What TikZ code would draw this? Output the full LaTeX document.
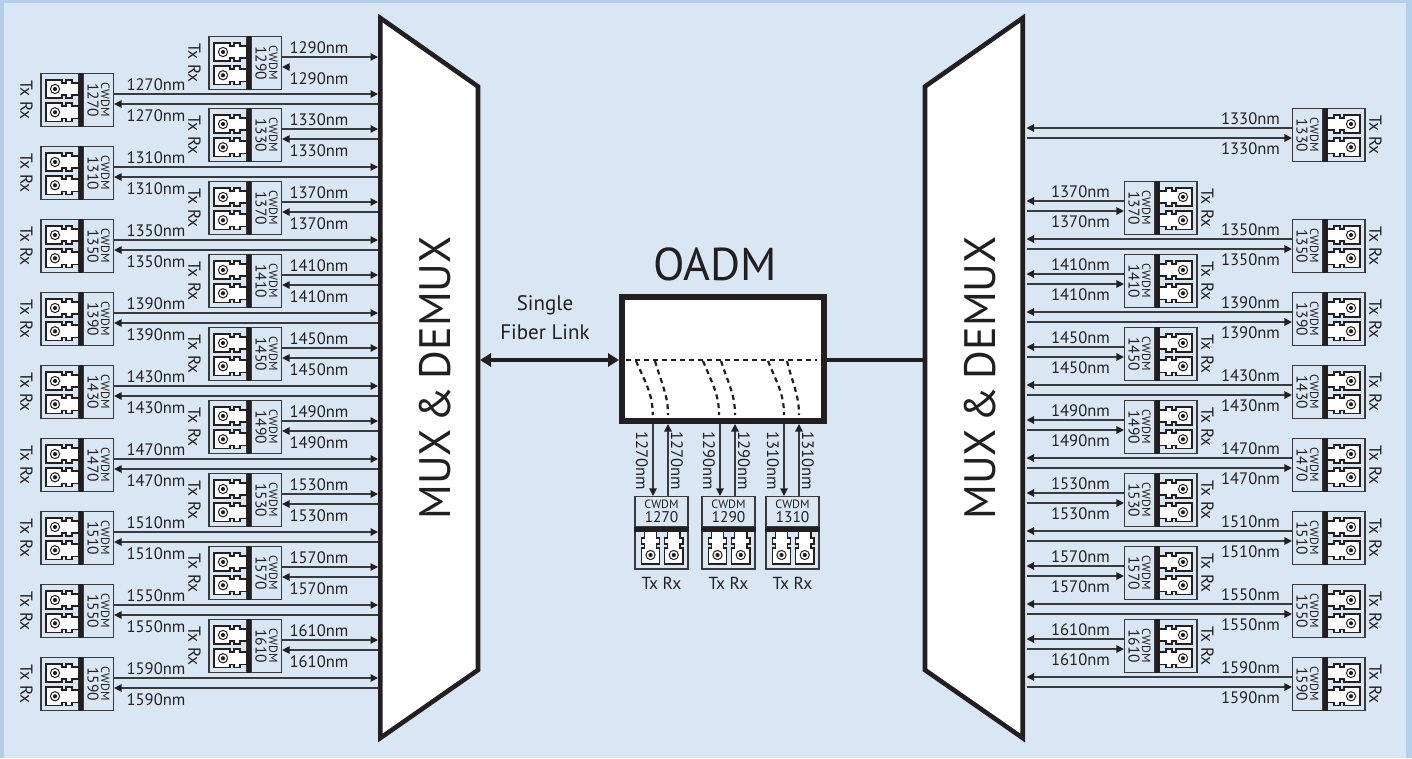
\documentclass[tikz,border=0pt]{standalone}
\usepackage{fontspec}
\setmainfont{PT Sans}
\usetikzlibrary{arrows.meta}
\definecolor{bgband}{HTML}{B3CFE9}
\definecolor{bgmain}{HTML}{D9E6F4}
\definecolor{ink}{HTML}{231F20}
\definecolor{wire}{HTML}{3A3A3C}
\newcommand\fsize[1]{\fontsize{#1}{#1}\selectfont}
\newcommand\cwtext[1]{\vbox{\baselineskip=13.5pt
  \hbox to 36pt{\hss\fsize{12}CWDM\hss}
  \hbox to 36pt{\hss\fsize{15.5}#1\hss}}}
\tikzset{
  lbl/.style={font=\fsize{16.6},text=ink,inner sep=0pt},
  txrx/.style={font=\fsize{17.4},text=ink,inner sep=0pt},
  big/.style={font=\fsize{46},text=ink,inner sep=0pt},
  bigrot/.style={font=\fsize{44},text=ink,inner sep=0pt},
  wirearrow/.style={draw=wire,line width=1.3pt,-{Triangle[length=7.5pt,width=7.5pt,color=ink]}},
  cwbox/.style={draw=wire,line width=1.2pt,fill=bgmain,inner sep=0pt,text=ink},
  cwv/.style={cwbox,minimum width=30pt,minimum height=53pt},
  cwh/.style={cwbox,minimum width=53pt,minimum height=30pt},
  muxshape/.style={draw=ink,fill=white,line width=4.6pt,miter limit=10},
  fib/.style={draw=ink,line width=2.2pt,dash pattern=on 5pt off 4pt},
}
\newcommand\lcparts{%
    \draw[wire,line width=1.2pt,fill=bgmain] (0,-26.5) rectangle (38,26.5);
    \fill[ink] (37.5,-27.1) rectangle (42.5,27.1);
    \foreach \t/\b in {-20/-2,3/21.5}{
      \draw[ink,line width=1.2pt,fill=white]
        (5,\t) -- (21,\t) -- (21,\t+3) -- (25,\t+3) -- (25,\t) -- (31,\t) -- (31,\t+3) -- (37.5,\t+3)
        -- (37.5,\b-3) -- (31,\b-3) -- (31,\b) -- (25,\b) -- (25,\b-3) -- (21,\b-3) -- (21,\b) -- (5,\b) -- cycle;
      \draw[ink,line width=1pt,fill=white] (14,{(\t+\b)/2}) circle (4.6);
      \fill[ink] (14,{(\t+\b)/2}) circle (2.1);
    }%
}
% left module: x0 = left edge, c = centre y; no lower line
\newcommand\rowLcore[4]{%
  \begin{scope}[shift={(#2,#3)}]\lcparts\end{scope}
  \node[cwv] (cw#1) at (#2+57.5,#3) {\rotatebox{-90}{\cwtext{#1}}};
  \node[txrx,rotate=-90] (tr#1) at (#2-14.5,#3) {Tx Rx};
  \draw[wirearrow] ([yshift=6pt]cw#1.east) -- ([yshift=6pt]cw#1.east -| muxLedge);
  \node[lbl] (up#1) at (#4,#3-15) {#1nm};
  \node[lbl] (dn#1) at (#4,#3+16) {#1nm};
}
\newcommand\rowL[4]{\rowLcore{#1}{#2}{#3}{#4}%
  \draw[wirearrow] ([yshift=-4pt]cw#1.east -| muxLedge) -- ([yshift=-4pt]cw#1.east);
}
% right module: x0 = right edge
\newcommand\rowR[4]{%
  \begin{scope}[shift={(#2,#3)},xscale=-1]\lcparts\end{scope}
  \node[cwv] (cr#1) at (#2-57.5,#3) {\rotatebox{-90}{\cwtext{#1}}};
  \node[txrx,rotate=-90] (tq#1) at (#2+10.5,#3) {Tx Rx};
  \draw[wirearrow] ([yshift=7pt]cr#1.west) -- ([yshift=7pt]cr#1.west -| muxRedge);
  \draw[wirearrow] ([yshift=-3pt]cr#1.west -| muxRedge) -- ([yshift=-3pt]cr#1.west);
  \node[lbl] (uq#1) at (#4,#3-16) {#1nm};
  \node[lbl] (dq#1) at (#4,#3+14) {#1nm};
}
% bottom module: cx = centre x
\newcommand\rowB[2]{%
  \begin{scope}[shift={(#2,569)},rotate=90]\lcparts\end{scope}
  \node[cwh] (cb#1) at (#2,511.5) {\cwtext{#1}};
  \node[txrx] (tb#1) at (#2,583) {Tx Rx};
  \draw[wirearrow] ([xshift=-8.5pt]cb#1.north |- oadm.south) -- ([xshift=-8.5pt]cb#1.north);
  \draw[wirearrow] ([xshift=6.5pt]cb#1.north) -- ([xshift=6.5pt]cb#1.north |- oadm.south);
  \node[lbl,rotate=-90] (lb#1) at (#2-19.5,461) {#1nm};
  \node[lbl,rotate=-90] (rb#1) at (#2+15.5,461) {#1nm};
}
\begin{document}
\begin{tikzpicture}[x=1pt,y=-1pt]
\useasboundingbox (0,0) rectangle (1412,758);
\fill[bgband] (0,0) rectangle (1412,758);
\fill[bgmain] (4,3) rectangle (1406,758);

\coordinate (muxLedge) at (378,377);
\coordinate (muxLinner) at (480,360);
\coordinate (muxRedge) at (1026.5,377);
\coordinate (muxRinner) at (925,360);

% left rows
\rowL{1270}{41}{100}{156}
\rowL{1310}{41}{173}{156}
\rowL{1350}{41}{246}{156}
\rowL{1390}{41}{319}{156}
\rowL{1430}{41}{392}{156}
\rowL{1470}{41}{465}{156}
\rowL{1510}{41}{538}{156}
\rowL{1550}{41}{611}{156}
\rowL{1590}{41}{684}{156}
\rowLcore{1290}{209}{63}{319}
\draw[wirearrow] ([xshift=8pt,yshift=-4pt]cw1290.east) -- ([yshift=-4pt]cw1290.east);
\rowL{1330}{209}{135}{319}
\rowL{1370}{209}{208}{319}
\rowL{1410}{209}{281}{319}
\rowL{1450}{209}{354}{319}
\rowL{1490}{209}{427}{319}
\rowL{1530}{209}{500}{319}
\rowL{1570}{209}{573}{319}
\rowL{1610}{209}{646}{319}

% right rows
\rowR{1330}{1365}{135}{1250.5}
\rowR{1350}{1365}{246}{1250.5}
\rowR{1390}{1365}{319}{1250.5}
\rowR{1430}{1365}{392}{1250.5}
\rowR{1470}{1365}{465}{1250.5}
\rowR{1510}{1365}{538}{1250.5}
\rowR{1550}{1365}{611}{1250.5}
\rowR{1590}{1365}{684}{1250.5}
\rowR{1370}{1197}{208}{1080.5}
\rowR{1410}{1197}{281}{1080.5}
\rowR{1450}{1197}{354}{1080.5}
\rowR{1490}{1197}{427}{1080.5}
\rowR{1530}{1197}{500}{1080.5}
\rowR{1570}{1197}{573}{1080.5}
\rowR{1610}{1197}{646}{1080.5}

% MUX shapes
\draw[muxshape] (380.3,18) -- (478,86.5) -- (478,670) -- (380.3,738) -- cycle;
\draw[muxshape] (1022.7,18) -- (925,86.5) -- (925,670) -- (1022.7,738) -- cycle;
\node[bigrot,rotate=90] (muxLtext) at (435,378) {MUX\hspace{7pt}\&\hspace{7pt}DEMUX};
\node[bigrot,rotate=90] (muxRtext) at (980,378) {MUX\hspace{7pt}\&\hspace{7pt}DEMUX};

% OADM
\node[draw=ink,fill=white,line width=6pt,inner sep=0pt,minimum width=202pt,minimum height=124pt] (oadm) at (723,359) {};
\node[big] (oadmtext) at (715,264) {OADM};
\node[font=\fsize{21},text=ink,inner sep=0pt,align=center] (single) at (545,318) {Single\\[8pt]Fiber Link};
\draw[ink,line width=3.4pt,{Triangle[length=11pt,width=13pt]}-{Triangle[length=11pt,width=13pt]}] (muxLinner) -- (oadm.west |- muxLinner);
\draw[ink,line width=3.4pt] (oadm.east |- muxRinner) -- (muxRinner);
\draw[fib] (626,360) -- (817,360);
\foreach \a/\b in {636/652.7,655/668,703/719,721/735,768/784,787/799}{
  \draw[fib] (\a,361) .. controls (\b-6,385) and (\b,395) .. (\b,415);
}

% bottom rows
\rowB{1270}{661.5}
\rowB{1290}{728.5}
\rowB{1310}{792.5}
\end{tikzpicture}
\end{document}
